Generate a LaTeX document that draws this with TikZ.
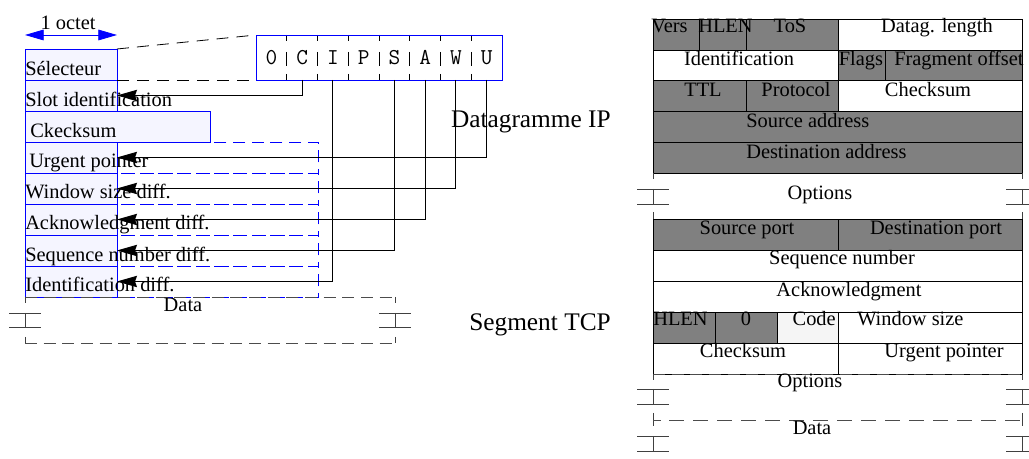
\documentclass[tikz,border=0pt]{standalone}
\usepackage{fontspec}
\setmainfont{Liberation Serif}
\usetikzlibrary{positioning}
\usetikzlibrary{arrows.meta}
\definecolor{ipgray}{RGB}{128,128,128}
\definecolor{codegray}{RGB}{245,245,245}
\definecolor{octetfill}{RGB}{245,245,255}
\newcommand{\PktFont}{\fontsize{15.3}{18}\selectfont}
\newcommand{\SideFont}{\fontsize{19}{22}\selectfont}
\newcommand{\FlagFont}{\fontsize{17}{20}\selectfont\ttfamily}
\newcommand{\Field}[6]{ % name, x1, y1, x2, y2, fill
\node[field, fill=#6, minimum width={(#4-#2)*0.75pt}, minimum height={(#5-#3)*0.75pt}] (#1) at (#2,#3) {};
}
\newcommand{\BreakMark}[3]{ % x, upper y, lower y
\draw[breakline] (#1-16,#2) -- (#1+16,#2);
\draw[breakline] (#1-16,#3) -- (#1+16,#3);
\draw[breakline] (#1,#2) -- (#1,#3);
}

\begin{document}
\begin{tikzpicture}[x=0.75pt, y=-0.75pt,
every node/.style={font=\PktFont},
field/.style={draw, line width=.6pt, anchor=north west, inner sep=0, outer sep=0},
ftext/.style={anchor=base, inner sep=0},
lefttext/.style={anchor=base west, inner sep=0},
octetrow/.style={draw=blue, fill=octetfill, line width=.6pt, anchor=north west, inner sep=0, outer sep=0, minimum width=69pt, minimum height=23.25pt},
diffbox/.style={draw=blue, line width=.6pt, dash pattern=on 9pt off 5pt},
flagcell/.style={inner sep=0, outer sep=0, minimum width=23.0625pt, minimum height=33.75pt, font=\FlagFont},
flagdiv/.style={line width=.6pt, dash pattern=on 4.5pt off 8.25pt on 10.5pt off 6pt on 6pt},
ptr/.style={-{Stealth[length=15pt, width=8.5pt, inset=1.5pt]}, line width=.7pt},
octarrow/.style={{Triangle[length=14pt, width=8pt]}-{Triangle[length=14pt, width=8pt]}, blue, line width=.6pt},
breakline/.style={line width=.6pt, black!75},
gapline/.style={line width=.6pt, black!70, dash pattern=on 9pt off 5pt},
sidelabel/.style={font=\SideFont, anchor=base east, inner sep=0},
]
\useasboundingbox (0,0) rectangle (1029,459);

%%%%%%%%%%%%%%%%%%%%%%%% COMPRESSED HEADER %%%%%%%%%%%%%%%%%%%%%%%%
\coordinate (octW) at (25,35);
\coordinate (octE) at (117,35);
\draw[octarrow] (octW) -- (octE);
\node[ftext] (octT) at (68,30) {1 octet};

%% dashed parts of the diff rows
\draw[diffbox] (117,142) rectangle ++(201,31);
\draw[diffbox] (117,173) rectangle ++(201,31);
\draw[diffbox] (117,204) rectangle ++(201,31);
\draw[diffbox] (117,235) rectangle ++(201,31);
\draw[diffbox] (117,266) rectangle ++(201,31);

%% one octet column
\node[octetrow] (selector) at (25,49) {};
\node[octetrow] (slot) at (25,80) {};
\node[octetrow, minimum width=138.75pt] (ckecksum) at (25,111) {};
\node[octetrow] (urgent) at (25,142) {};
\node[octetrow] (window) at (25,173) {};
\node[octetrow] (ackdiff) at (25,204) {};
\node[octetrow] (seqdiff) at (25,235) {};
\node[octetrow] (identdiff) at (25,266) {};

\node[lefttext] (selT) at (25,76) {Sélecteur};
\node[lefttext] (slotT) at (25,107) {Slot identification};
\node[lefttext] (cksT) at (30,138) {Ckecksum};
\node[lefttext] (urgT) at (29,168) {Urgent pointer};
\node[lefttext] (winT) at (25,199) {Window size diff.};
\node[lefttext] (ackT) at (25,230) {Acknowledgment diff.};
\node[lefttext] (seqT) at (25,262) {Sequence number diff.};
\node[lefttext] (idT) at (25,292) {Identification diff.};

%%%%%%%%% FLAG BYTE %%%%%%%%%
\node[flagcell, anchor=north west] (f0) at (256,35) {0};
\node[flagcell, right=0pt of f0] (fC) {C};
\node[flagcell, right=0pt of fC] (fI) {I};
\node[flagcell, right=0pt of fI] (fP) {P};
\node[flagcell, right=0pt of fP] (fS) {S};
\node[flagcell, right=0pt of fS] (fA) {A};
\node[flagcell, right=0pt of fA] (fW) {W};
\node[flagcell, right=0pt of fW] (fU) {U};
\draw[flagdiv] (f0.north east) -- (f0.south east);
\draw[flagdiv] (fC.north east) -- (fC.south east);
\draw[flagdiv] (fI.north east) -- (fI.south east);
\draw[flagdiv] (fP.north east) -- (fP.south east);
\draw[flagdiv] (fS.north east) -- (fS.south east);
\draw[flagdiv] (fA.north east) -- (fA.south east);
\draw[flagdiv] (fW.north east) -- (fW.south east);
\draw[blue, line width=.6pt] (f0.north west) rectangle (fU.south east);
\draw[gapline, black, dash pattern=on 9pt off 6pt] (selector.north east) -- (f0.north west);
\draw[gapline, black, dash pattern=on 9pt off 6pt] (selector.south east) -- (f0.south west);

\draw[ptr] (fC.south) |- (slot.east);
\draw[ptr] (fU.south) |- (urgent.east);
\draw[ptr] (fW.south) |- (window.east);
\draw[ptr] (fA.south) |- (ackdiff.east);
\draw[ptr] (fS.south) |- (seqdiff.east);
\draw[ptr] (fI.south) |- (identdiff.east);

%% data of the compressed segment
\draw[gapline] (identdiff.south west) -- ++(370,0);
\draw[gapline] (25,343) -- (395,343);
\draw[breakline] (25,297) -- (25,303);
\draw[breakline] (25,337) -- (25,343);
\draw[breakline] (395,297) -- (395,303);
\draw[breakline] (395,337) -- (395,343);
\BreakMark{25}{313}{327}
\BreakMark{395}{313}{327}
\node[ftext] (dataL) at (183,312) {Data};

\node[sidelabel] (ipT) at (611,128) {Datagramme IP};
\node[sidelabel] (tcpT) at (611,331) {Segment TCP};

%%%%%%%%%%%%%%%%%%%%%%%% IP HEADER %%%%%%%%%%%%%%%%%%%%%%%%
\Field{vers}{653}{19}{699}{50}{ipgray}
\Field{hlen}{699}{19}{746}{50}{ipgray}
\Field{tos}{746}{19}{838}{50}{ipgray}
\Field{dlen}{838}{19}{1022}{50}{white}
\Field{ident}{653}{50}{838}{80}{white}
\Field{flags}{838}{50}{885}{80}{ipgray}
\Field{frag}{885}{50}{1022}{80}{ipgray}
\Field{ttl}{653}{80}{746}{111}{ipgray}
\Field{proto}{746}{80}{838}{111}{ipgray}
\Field{ipcks}{838}{80}{1022}{111}{white}
\Field{src}{653}{111}{1022}{142}{ipgray}
\Field{dst}{653}{142}{1022}{173}{ipgray}

\node[lefttext] (versT) at (651,33) {Vers};
\node[lefttext] (hlenT) at (698,33) {HLEN};
\node[ftext] (tosT) at (790,33) {ToS};
\node[ftext] (dlenT) at (937,33) {Datag. length};
\node[ftext] (identT) at (739,66) {Identification};
\node[ftext] (flagsT) at (861,66) {Flags};
\node[lefttext] (fragT) at (894,66) {Fragment offset};
\node[ftext] (ttlT) at (703,97) {TTL};
\node[ftext] (protoT) at (796,97) {Protocol};
\node[ftext] (ipcksT) at (928,97) {Checksum};
\node[lefttext] (srcT) at (746,128) {Source address};
\node[lefttext] (dstT) at (746,159) {Destination address};

%% options
\draw[breakline] (dst.south west) -- ++(0,6);
\draw[breakline] (dst.south east) -- ++(0,6);
\BreakMark{653}{189}{204}
\BreakMark{1022}{189}{204}
\draw[breakline] (653,212) -- (653,219);
\draw[breakline] (1022,212) -- (1022,219);
\node[ftext] (ipoptT) at (820,200) {Options};

%%%%%%%%%%%%%%%%%%%%%%%% TCP HEADER %%%%%%%%%%%%%%%%%%%%%%%%
\Field{sport}{653}{219}{838}{250}{ipgray}
\Field{dport}{838}{219}{1022}{250}{ipgray}
\Field{seq}{653}{250}{1022}{281}{white}
\Field{ack}{653}{281}{1022}{312}{white}
\Field{thlen}{653}{312}{715}{343}{ipgray}
\Field{zero}{715}{312}{777}{343}{ipgray}
\Field{code}{777}{312}{838}{343}{codegray}
\Field{win}{838}{312}{1022}{343}{white}
\Field{tcks}{653}{343}{838}{374}{white}
\Field{urg}{838}{343}{1022}{374}{white}

\node[ftext] (sportT) at (747,235) {Source port};
\node[ftext] (dportT) at (936,235) {Destination port};
\node[ftext] (seqT2) at (842,265) {Sequence number};
\node[ftext] (ackT2) at (849,297) {Acknowledgment};
\node[lefttext] (thlenT) at (653,326) {HLEN};
\node[ftext] (zeroT) at (746,326) {0};
\node[anchor=base east, inner sep=0] (codeT) at (836,326) {Code};
\node[lefttext] (winT2) at (857,326) {Window size};
\node[ftext] (tcksT) at (743,358) {Checksum};
\node[ftext] (urgT2) at (944,358) {Urgent pointer};

%% options and data
\draw[gapline] (tcks.south west) -- (urg.south east);
\draw[breakline] (tcks.south west) -- ++(0,6);
\draw[breakline] (urg.south east) -- ++(0,6);
\BreakMark{653}{389}{404}
\BreakMark{1022}{389}{404}
\draw[breakline] (653,413) -- (653,426);
\draw[breakline] (1022,413) -- (1022,426);
\draw[gapline, dash pattern=on 6pt off 6pt on 11pt off 7pt on 11pt off 7pt on 11pt off 7pt on 11pt off 7pt on 11pt off 7pt on 11pt off 7pt on 11pt off 7pt on 11pt off 7pt on 11pt off 7pt on 11pt off 7pt on 11pt off 7pt on 11pt off 7pt on 11pt off 7pt on 11pt off 7pt on 11pt off 7pt on 11pt off 7pt] (653,420) -- (1022,420);
\BreakMark{653}{436}{451}
\BreakMark{1022}{436}{451}
\node[ftext] (tcpoptT) at (810,388) {Options};
\node[ftext] (tcpdataT) at (812,435) {Data};

\end{tikzpicture}
\end{document}
